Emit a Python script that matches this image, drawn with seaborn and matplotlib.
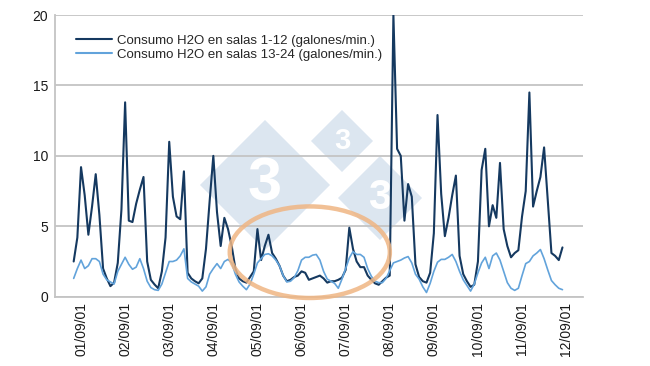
import matplotlib
matplotlib.use('Agg')
import matplotlib.pyplot as plt
import matplotlib.dates as mdates
from matplotlib.patches import Ellipse, Polygon
import pandas as pd
import seaborn as sns


# 2-hourly readings, first one on 31/08/01 at 20:00
START = '2001-08-31 20:00'
STEP = '2h'

salas_1_12 = [
    2.5, 4.2, 9.2, 7.2, 4.4, 6.4, 8.7, 5.8, 2.0, 1.3, 0.75, 1.0,
    2.4, 6.2, 13.8, 5.4, 5.3, 6.6, 7.6, 8.5, 2.5, 1.2, 0.87, 0.6,
    1.8, 4.2, 11.0, 7.1, 5.7, 5.5, 8.9, 1.7, 1.3, 1.1, 0.95, 1.3,
    3.4, 6.8, 10.0, 6.0, 3.6, 5.6, 4.8, 3.6, 2.0, 1.3, 1.1, 1.0,
    1.4, 1.8, 4.8, 2.6, 3.6, 4.4, 3.1, 2.7, 2.2, 1.5, 1.1, 1.2,
    1.4, 1.5, 1.8, 1.7, 1.2, 1.3, 1.4, 1.5, 1.3, 1.0, 1.1, 1.1,
    1.2, 1.35, 1.9, 4.9, 3.4, 2.5, 2.1, 2.1, 1.5, 1.2, 0.95, 0.85,
    1.1, 1.35, 1.5, 20.0, 10.5, 10.0, 5.4, 8.0, 7.1, 2.3, 1.4, 1.1,
    1.0, 1.7, 4.5, 12.9, 7.3, 4.3, 5.6, 7.2, 8.6, 2.9, 1.6, 1.1,
    0.7, 0.85, 2.5, 9.0, 10.5, 5.0, 6.5, 5.6, 9.5, 4.8, 3.6, 2.8,
    3.1, 3.3, 5.7, 7.5, 14.5, 6.4, 7.5, 8.5, 10.6, 6.8, 3.1, 2.9,
    2.6, 3.5,
]

salas_13_24 = [
    1.3, 2.0, 2.6, 2.0, 2.2, 2.7, 2.7, 2.5, 1.6, 1.2, 1.05, 0.9,
    1.8, 2.3, 2.8, 2.3, 1.95, 2.1, 2.7, 2.0, 1.1, 0.65, 0.5, 0.45,
    0.9, 1.7, 2.5, 2.5, 2.6, 2.9, 3.4, 1.3, 1.05, 0.9, 0.75, 0.4,
    0.7, 1.6, 2.0, 2.35, 2.0, 2.5, 2.65, 2.4, 1.6, 1.05, 0.75, 0.5,
    0.9, 1.6, 2.4, 2.7, 3.0, 3.05, 2.9, 2.6, 2.2, 1.5, 1.05, 1.1,
    1.35, 1.85, 2.6, 2.8, 2.8, 2.95, 3.0, 2.6, 1.8, 1.25, 1.1, 0.95,
    0.6, 1.25, 2.0, 2.75, 3.2, 3.0, 3.0, 2.8, 2.0, 1.45, 1.1, 1.0,
    1.0, 1.3, 1.85, 2.4, 2.5, 2.6, 2.75, 2.85, 2.4, 1.6, 1.25, 0.7,
    0.3, 0.95, 1.8, 2.45, 2.65, 2.65, 2.8, 3.0, 2.5, 1.8, 1.2, 0.8,
    0.4, 0.9, 1.7, 2.4, 2.8, 2.0, 2.9, 3.1, 2.6, 1.8, 1.0, 0.6,
    0.45, 0.6, 1.5, 2.35, 2.5, 2.9, 3.1, 3.35, 2.7, 1.9, 1.15, 0.85,
    0.6, 0.5,
]

series_names = ['Consumo H2O en salas 1-12 (galones/min.)',
                'Consumo H2O en salas 13-24 (galones/min.)']
series_colors = ['#153960', '#62a3db']
series_widths = [1.5, 1.2]
y_ticks = [0, 5, 10, 15, 20]

GRID = '#c4c4c4'
WATERMARK = '#dce6f0'


def diamond(ax, cx, cy, r, label, size):
    # pixel position on the 650x366 canvas -> inches
    pts = [(cx, cy - r), (cx + r, cy), (cx, cy + r), (cx - r, cy)]
    pts = [(x / 100, (366 - y) / 100) for x, y in pts]
    ax.add_patch(Polygon(pts, closed=True, transform=ax.figure.dpi_scale_trans,
                         facecolor=WATERMARK, edgecolor='white', lw=2,
                         zorder=0.2, clip_on=False))
    ax.text(cx / 100, (366 - cy) / 100, label, transform=ax.figure.dpi_scale_trans,
            ha='center', va='center', color='white', fontsize=size,
            fontweight='bold', zorder=0.3)


times = pd.date_range(START, periods=len(salas_1_12), freq=STEP)
df = pd.DataFrame({'fecha': times,
                   series_names[0]: salas_1_12,
                   series_names[1]: salas_13_24})
df = df.melt(id_vars='fecha', var_name='serie', value_name='galones')

sns.set_style('white')
plt.rcParams['font.family'] = ['Liberation Sans', 'DejaVu Sans']

fig = plt.figure(figsize=(6.5, 3.66), dpi=100)
ax = fig.add_axes([0.0846, 0.1893, 0.8123, 0.7697])

# 333 watermark
diamond(ax, 265, 185, 67, '3', 44)
diamond(ax, 342, 141, 33, '3', 21)
diamond(ax, 380, 198, 44, '3', 30)

sns.lineplot(data=df, x='fecha', y='galones', hue='serie',
             palette=dict(zip(series_names, series_colors)), ax=ax, zorder=2)
for line, lw in zip(ax.get_lines(), series_widths):
    line.set_linewidth(lw)

ax.set_ylim(0, 20)
ax.set_yticks(y_ticks)
ax.set_xlim(pd.Timestamp('2001-08-31 09:50'), pd.Timestamp('2001-09-12 09:10'))
ax.xaxis.set_major_locator(mdates.DayLocator())
ax.xaxis.set_major_formatter(mdates.DateFormatter('%d/%m/%y'))
ax.set_xlabel(None)
ax.set_ylabel(None)

ax.grid(axis='y', color=GRID, lw=1.3)
ax.grid(axis='x', visible=False)
for side in ['top', 'right']:
    ax.spines[side].set_visible(False)
for side in ['left', 'bottom']:
    ax.spines[side].set_color(GRID)
    ax.spines[side].set_linewidth(1.3)

ax.tick_params(axis='both', length=0, labelsize=10, labelcolor='#1a1a1a')
ax.tick_params(axis='y', pad=5)
ax.tick_params(axis='x', pad=4, labelrotation=90)

# highlighted stretch
ax.add_patch(Ellipse((mdates.date2num(pd.Timestamp('2001-09-06 04:30')), 3.16),
                     width=3.63, height=6.5, fill=False, edgecolor='#efb583',
                     lw=3.2, alpha=0.85, zorder=3, clip_on=False))

handles, labels = ax.get_legend_handles_labels()
ax.legend(handles, labels, loc='upper left', bbox_to_anchor=(0.04, 0.93),
          frameon=False, fontsize=9.5, handlelength=2.7, handletextpad=0.4,
          labelspacing=0.1, borderpad=0, borderaxespad=0)

fig.savefig('out.png', dpi=100)
